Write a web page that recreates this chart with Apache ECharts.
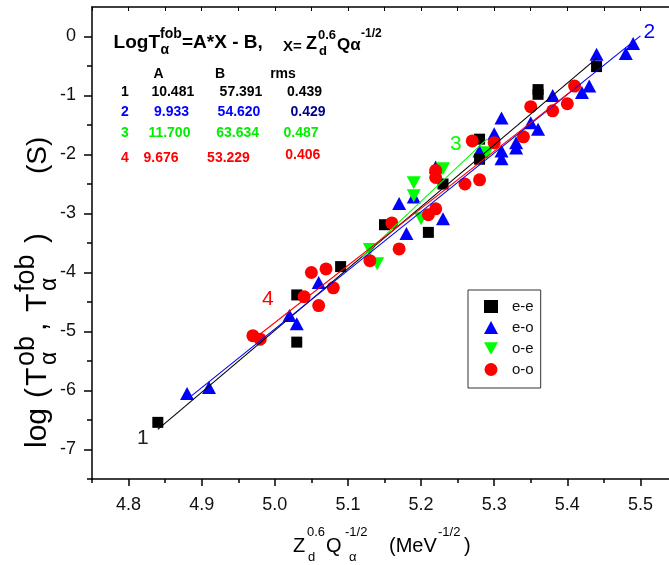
<!DOCTYPE html>
<html><head><meta charset="utf-8">
<script src="https://cdn.jsdelivr.net/npm/echarts@6/dist/echarts.min.js"></script>
<style>html,body{margin:0;padding:0;background:#fff}#c{width:669px;height:565px}</style>
</head><body><div id="c"></div>
<script>
// ---- data ----
const xMajorTicks = [4.8, 4.9, 5.0, 5.1, 5.2, 5.3, 5.4, 5.5];
const xMinorTicks = [4.75, 4.85, 4.95, 5.05, 5.15, 5.25, 5.35, 5.45];
const yMajorTicks = [-7, -6, -5, -4, -3, -2, -1, 0];
const yMinorTicks = [-7.5, -6.5, -5.5, -4.5, -3.5, -2.5, -1.5, -0.5];
const seriesNames = ['e-e', 'e-o', 'o-e', 'o-o'];

const eePoints = [
  [4.84, -6.54], [5.03, -5.18], [5.03, -4.38], [5.09, -3.90], [5.15, -3.19],
  [5.21, -3.32], [5.23, -2.50], [5.28, -2.08], [5.28, -1.74], [5.36, -0.90],
  [5.36, -0.98], [5.44, -0.51]
];
const eoPoints = [
  [4.88, -6.05], [4.91, -5.95], [5.02, -4.73], [5.03, -4.87], [5.06, -4.17],
  [5.17, -2.83], [5.19, -2.72], [5.18, -3.34], [5.23, -3.09], [5.22, -2.21],
  [5.28, -1.94], [5.30, -1.65], [5.31, -1.38], [5.31, -1.94], [5.31, -2.07],
  [5.33, -1.80], [5.33, -1.89], [5.35, -1.46], [5.36, -1.57], [5.38, -1.00],
  [5.42, -0.95], [5.43, -0.84], [5.44, -0.30], [5.48, -0.29], [5.49, -0.12]
];
const oePoints = [
  [5.13, -3.61], [5.14, -3.85], [5.19, -2.48], [5.19, -2.70], [5.20, -3.09],
  [5.23, -2.24], [5.29, -1.97]
];
const ooPoints = [
  [4.97, -5.07], [4.98, -5.13], [5.04, -4.41], [5.05, -4.00], [5.06, -4.56],
  [5.07, -3.94], [5.08, -4.26], [5.13, -3.80], [5.16, -3.16], [5.17, -3.60],
  [5.21, -3.02], [5.22, -2.92], [5.22, -2.27], [5.22, -2.39], [5.26, -2.50],
  [5.28, -2.43], [5.27, -1.77], [5.30, -1.80], [5.34, -1.70], [5.35, -1.19],
  [5.38, -1.26], [5.40, -1.14], [5.41, -0.84]
];
// fit lines (end points), labels 1..4
const fit1 = [[4.84, -6.66], [5.44, -0.37]];
const fit2 = [[4.88, -6.15], [5.50, 0.01]];
const fit3 = [[5.12, -3.73], [5.29, -1.74]];
const fit4 = [[4.97, -5.14], [5.41, -0.88]];
const fitLabels = ['1', '2', '3', '4'];
// coefficient table
const tableRows = ['1', '2', '3', '4'];
const colA = ['10.481', '9.933', '11.700', '9.676'];
const colB = ['57.391', '54.620', '63.634', '53.229'];
const colRms = ['0.439', '0.429', '0.487', '0.406'];

// ---- styling ----
const FONT = 'Arial, "Liberation Sans", sans-serif';
const BLACK = '#000000', BLUE = '#0000ff', GREEN = '#00ee00', RED = '#ff0000', NAVY = '#00008b';
const rowColors = [BLACK, BLUE, GREEN, RED];
const rmsColors = [BLACK, NAVY, GREEN, RED];
const downTri = 'path://M0,0L10,0L5,9Z';

function txt(x, y, text, size, opts) {
  opts = opts || {};
  return {
    type: 'text', x: x, y: y, silent: true, z: 100,
    style: {
      text: text, fill: opts.color || BLACK,
      font: (opts.bold ? 'bold ' : '') + size + 'px ' + FONT,
      align: opts.align || 'left', verticalAlign: 'middle'
    }
  };
}

const graphics = [];
// formula title
graphics.push(txt(113.6, 42.6, 'LogT', 19, {bold: true}));
graphics.push(txt(160, 34, 'fob', 14, {bold: true}));
graphics.push(txt(160.5, 50, '\u03b1', 14, {bold: true}));
graphics.push(txt(182, 42.6, '=A*X - B,', 19, {bold: true}));
graphics.push(txt(283, 47, 'X=', 15, {bold: true}));
graphics.push(txt(306, 44, 'Z', 18, {bold: true}));
graphics.push(txt(318, 35, '0.6', 13, {bold: true}));
graphics.push(txt(319, 51, 'd', 13, {bold: true}));
graphics.push(txt(337, 45, 'Q\u03b1', 17, {bold: true}));
graphics.push(txt(361, 34, '-1/2', 12, {bold: true}));
// table
graphics.push(txt(158.6, 74, 'A', 14, {bold: true, align: 'center'}));
graphics.push(txt(220, 74, 'B', 14, {bold: true, align: 'center'}));
graphics.push(txt(283, 74, 'rms', 14, {bold: true, align: 'center'}));
const rowY = [92.6, 112, 133, 158.5];
const rmsY = [92.6, 112, 133, 155];
const aX = [172.8, 171.6, 169.4, 161];
const bX = [241, 239, 237.6, 228.5];
const rX = [304.6, 308, 301, 302.8];
for (let i = 0; i < 4; i++) {
  graphics.push(txt(124.8, rowY[i], tableRows[i], 14, {bold: true, align: 'center', color: rowColors[i]}));
  graphics.push(txt(aX[i], rowY[i], colA[i], 14, {bold: true, align: 'center', color: rowColors[i]}));
  graphics.push(txt(bX[i], rowY[i], colB[i], 14, {bold: true, align: 'center', color: rowColors[i]}));
  graphics.push(txt(rX[i], rmsY[i], colRms[i], 14, {bold: true, align: 'center', color: rmsColors[i]}));
}
// x axis name
graphics.push(txt(293, 546, 'Z', 20));
graphics.push(txt(307, 532, '0.6', 13));
graphics.push(txt(308, 557, 'd', 13));
graphics.push(txt(326, 546, 'Q', 20));
graphics.push(txt(345, 532, '-1/2', 13));
graphics.push(txt(349, 557, '\u03b1', 13));
graphics.push(txt(389, 546, '(MeV', 20));
graphics.push(txt(438, 532, '-1/2', 13));
graphics.push(txt(464, 546, ')', 20));
// y axis name (rotated group)
graphics.push({
  type: 'group', x: 38, y: 450, rotation: Math.PI / 2, silent: true,
  children: [
    txt(2, 0, 'log', 30),
    txt(52, 0, '(', 30),
    txt(64, 0, 'T', 30),
    txt(84, -11, 'ob', 27),
    txt(85, 12, '\u03b1', 23),
    txt(119, 0, ',', 30),
    txt(138, 0, 'T', 30),
    txt(158, -11, 'fob', 27),
    txt(159, 12, '\u03b1', 23),
    txt(207, 0, ')', 30),
    txt(276, 0, '(S)', 28)
  ]
});

function lineSeries(data, color, labelIdx, labelText, offset) {
  return {
    type: 'line', xAxisIndex: 0, yAxisIndex: 0, z: 5,
    data: data.map((p, i) => i === labelIdx ? {
      value: p,
      label: {show: true, formatter: labelText, position: 'inside', offset: offset,
              fontSize: 21, fontFamily: FONT, color: color === BLACK ? '#222' : color}
    } : {value: p}),
    symbol: 'circle', symbolSize: 0.01, showSymbol: true,
    lineStyle: {color: color, width: 1.1}, itemStyle: {color: color},
    silent: true, animation: false
  };
}

const chart = echarts.init(document.getElementById('c'), null, {renderer: 'canvas'});
const axisLineStyle = {color: '#000', width: 1.5};
chart.setOption({
  animation: false,
  backgroundColor: '#fff',
  grid: {left: 92, top: 7, width: 585, height: 472, containLabel: false, outerBoundsMode: 'none'},
  xAxis: [
    {type: 'value', min: 4.75, max: 5.55, position: 'bottom',
     axisLine: {show: true, onZero: false, lineStyle: axisLineStyle},
     axisTick: {show: true, customValues: xMajorTicks, length: 7, lineStyle: axisLineStyle},
     axisLabel: {customValues: xMajorTicks, formatter: v => v.toFixed(1), fontSize: 18,
                 color: '#111', margin: 17, fontFamily: FONT},
     splitLine: {show: false}},
    {type: 'value', min: 4.75, max: 5.55, position: 'bottom',
     axisLine: {show: false, onZero: false},
     axisTick: {show: true, customValues: xMinorTicks, length: 4, lineStyle: axisLineStyle},
     axisLabel: {show: false}, splitLine: {show: false}},
    {type: 'value', min: 4.75, max: 5.55, position: 'top',
     axisLine: {show: true, onZero: false, lineStyle: axisLineStyle},
     axisTick: {show: true, inside: true, customValues: xMajorTicks.concat(xMinorTicks), length: 4, lineStyle: {color: '#000', width: 1}},
     axisLabel: {show: false}, splitLine: {show: false}}
  ],
  yAxis: [
    {type: 'value', min: -7.5, max: 0.5, position: 'left',
     axisLine: {show: true, onZero: false, lineStyle: axisLineStyle},
     axisTick: {show: true, customValues: yMajorTicks, length: 8, lineStyle: axisLineStyle},
     axisLabel: {customValues: yMajorTicks, formatter: v => String(v), fontSize: 18,
                 color: '#111', margin: 16, fontFamily: FONT},
     splitLine: {show: false}},
    {type: 'value', min: -7.5, max: 0.5, position: 'left',
     axisLine: {show: false, onZero: false},
     axisTick: {show: true, customValues: yMinorTicks, length: 5, lineStyle: axisLineStyle},
     axisLabel: {show: false}, splitLine: {show: false}}
  ],
  legend: {
    data: [
      {name: 'e-e', icon: 'rect'},
      {name: 'e-o', icon: 'triangle'},
      {name: 'o-e', icon: downTri},
      {name: 'o-o', icon: 'circle'}
    ],
    orient: 'vertical', left: 468, top: 290,
    padding: [9, 7, 11, 16], itemGap: 6, itemWidth: 14, itemHeight: 13,
    borderColor: '#333', borderWidth: 1, backgroundColor: '#fff',
    textStyle: {fontSize: 15, fontFamily: FONT, color: '#111', padding: [0, 0, 0, 9]},
    selectedMode: false
  },
  series: [
    {name: seriesNames[1], type: 'scatter', data: eoPoints, symbol: 'triangle', symbolSize: [14, 13],
     itemStyle: {color: BLUE, opacity: 1}, z: 2},
    {name: seriesNames[0], type: 'scatter', data: eePoints, symbol: 'rect', symbolSize: 11,
     itemStyle: {color: BLACK, opacity: 1}, z: 2},
    {name: seriesNames[2], type: 'scatter', data: oePoints, symbol: downTri, symbolSize: [14, 13],
     itemStyle: {color: '#00ff00', opacity: 1}, z: 2},
    {name: seriesNames[3], type: 'scatter', data: ooPoints, symbol: 'circle', symbolSize: 13,
     itemStyle: {color: RED, opacity: 1}, z: 3},
    lineSeries(fit1, BLACK, 0, fitLabels[0], [-15, 9]),
    lineSeries(fit2, BLUE, 1, fitLabels[1], [9, -4]),
    lineSeries(fit3, '#00ff00', 1, fitLabels[2], [-31, 5]),
    lineSeries(fit4, RED, 0, fitLabels[3], [15, -41])
  ],
  graphic: graphics
});
</script>
</body></html>
